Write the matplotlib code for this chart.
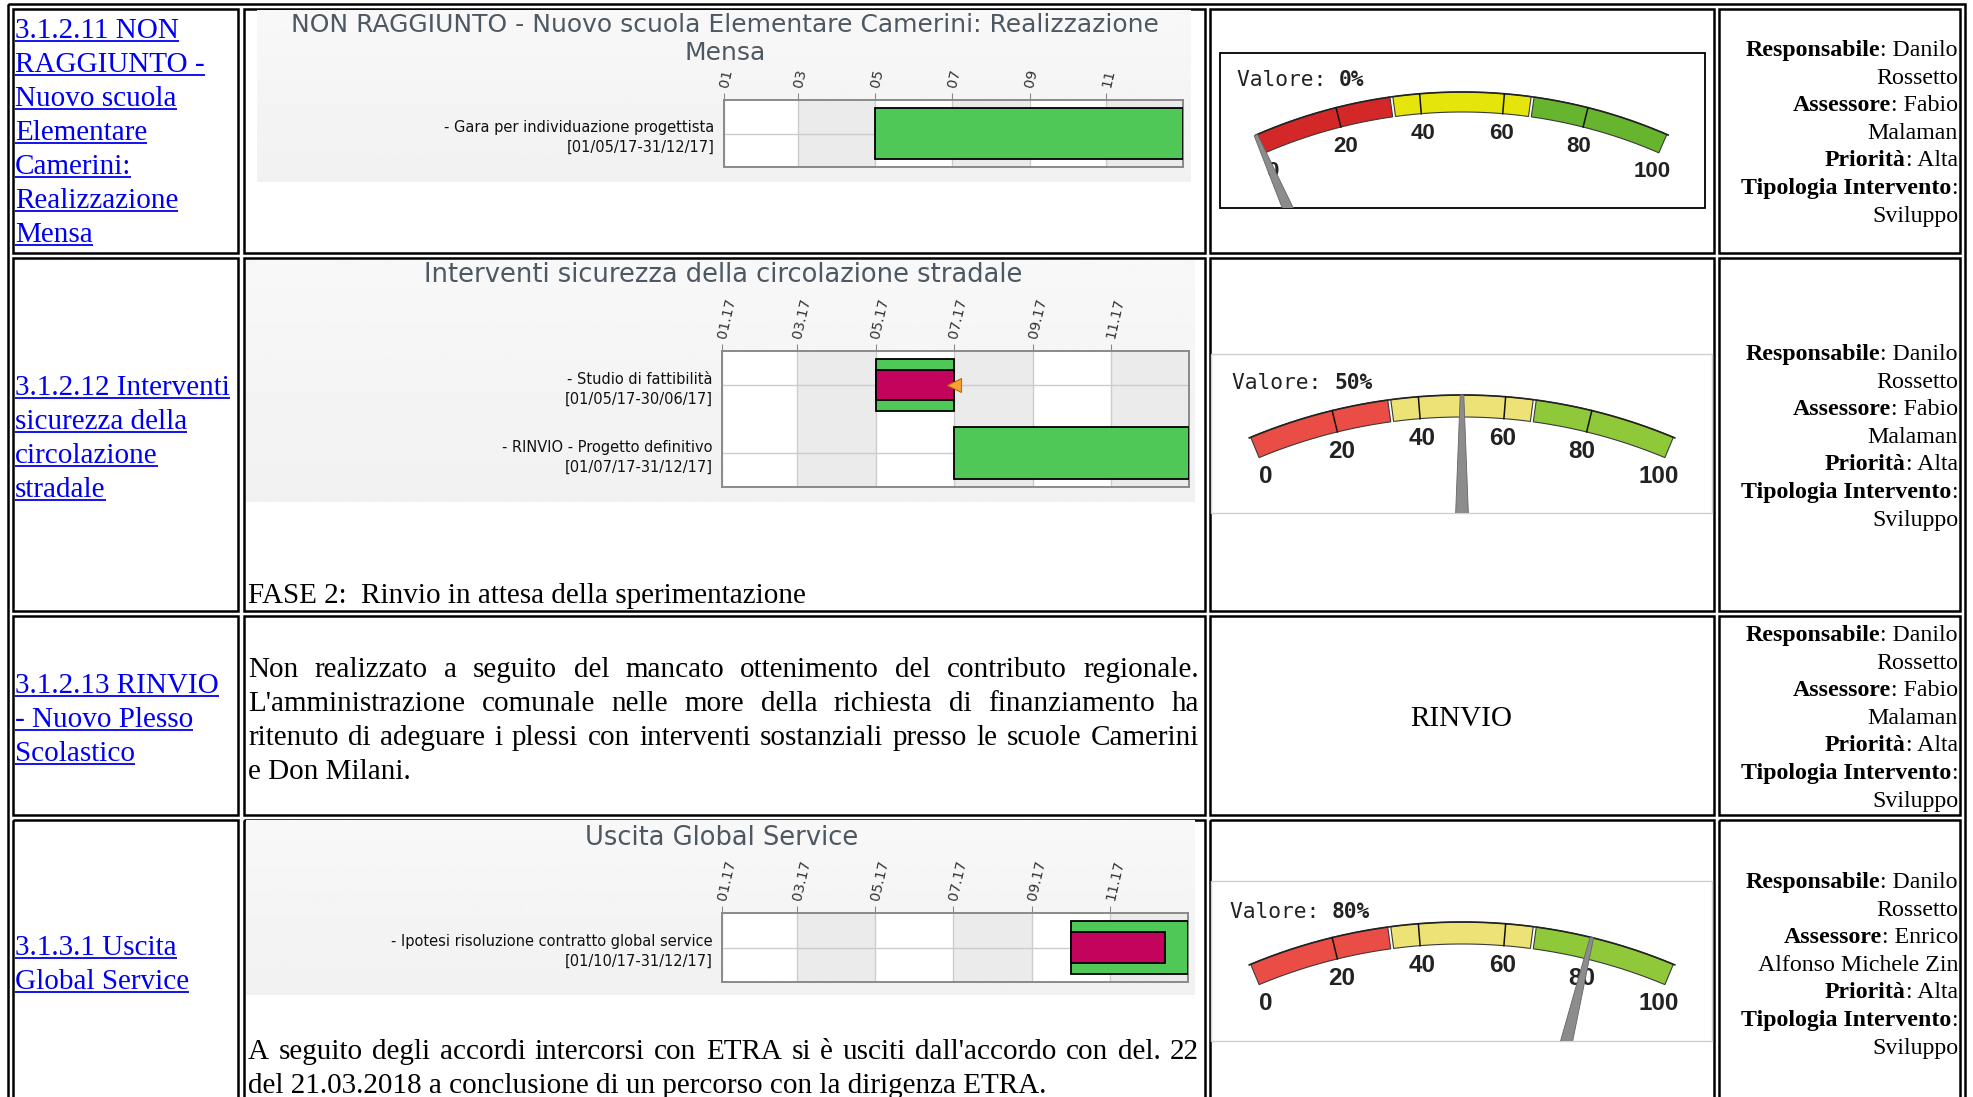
import numpy as np
import matplotlib
matplotlib.use("Agg")
import matplotlib.pyplot as plt
import matplotlib.dates as mdates
from matplotlib.patches import Rectangle, Polygon
from datetime import datetime, timedelta

W, H = 1973, 1097

# ---------------- data ----------------
link_lines = [
    ["3.1.2.11 NON", "RAGGIUNTO -", "Nuovo scuola", "Elementare", "Camerini:", "Realizzazione", "Mensa"],
    ["3.1.2.12 Interventi", "sicurezza della", "circolazione", "stradale"],
    ["3.1.2.13 RINVIO", "- Nuovo Plesso", "Scolastico"],
    ["3.1.3.1 Uscita", "Global Service"],
]

gantt_titles = [
    ["NON RAGGIUNTO - Nuovo scuola Elementare Camerini: Realizzazione", "Mensa"],
    ["Interventi sicurezza della circolazione stradale"],
    ["Uscita Global Service"],
]
gantt_tasks = [
    ["- Gara per individuazione progettista"],
    ["- Studio di fattibilità", "- RINVIO - Progetto definitivo"],
    ["- Ipotesi risoluzione contratto global service"],
]
gantt_periods = [
    [("01/05/17", "31/12/17")],
    [("01/05/17", "30/06/17"), ("01/07/17", "31/12/17")],
    [("01/10/17", "31/12/17")],
]
gantt_progress = [[0], [100, 0], [80]]
gantt_milestones = [[], [("30/06/17", 0)], []]
tick_months = [1, 3, 5, 7, 9, 11]
shaded_months = [(3, 5), (7, 9), (11, 13)]
tick_formats = ["%m", "%m.%y", "%m.%y"]

gauge_values = [0, 50, 80]
gauge_ticks = [0, 20, 40, 60, 80, 100]
gauge_bands = [0, 33.3, 66.7, 100]

fase_text = "FASE 2:  Rinvio in attesa della sperimentazione"
para_row3 = ["Non realizzato a seguito del mancato ottenimento del contributo regionale.",
             "L'amministrazione comunale nelle more della richiesta di finanziamento ha",
             "ritenuto di adeguare i plessi con interventi sostanziali presso le scuole Camerini",
             "e Don Milani."]
para_row4 = ["A seguito degli accordi intercorsi con ETRA si è usciti dall'accordo con del. 22",
             "del 21.03.2018 a conclusione di un percorso con la dirigenza ETRA."]
rinvio_text = "RINVIO"

info_std = [("Responsabile", ": Danilo"), ("", "Rossetto"), ("Assessore", ": Fabio"), ("", "Malaman"),
            ("Priorità", ": Alta"), ("Tipologia Intervento", ":"), ("", "Sviluppo")]
info_lines = [info_std, info_std, info_std,
              [("Responsabile", ": Danilo"), ("", "Rossetto"), ("Assessore", ": Enrico"),
               ("", "Alfonso Michele Zin"), ("Priorità", ": Alta"), ("Tipologia Intervento", ":"),
               ("", "Sviluppo")]]

# ---------------- layout (pixels) ----------------
SERIF = "Liberation Serif"
SANS = "DejaVu Sans"
BLUE = "#0000ee"
GREEN = "#4fc857"
MAGENTA = "#c2045c"

col_edges = [(13, 238), (244, 1205), (1210, 1714), (1719, 1960)]
row_edges = [(9, 253), (258, 611), (616, 815), (820, 1130)]
link_first = [28, 385, 683, 945]
info_first = [48, 352, 633, 880]

gantt_panels = [(257, 10, 1191, 182), (246, 260, 1195, 502), (246, 820, 1195, 995)]
gantt_title_y = [[25, 53], [275], [838]]
gantt_title_x = [725, 723, 722]
gantt_title_fs = [18.0, 18.5, 18.5]
gantt_axes_px = [(724, 100, 1183, 167), (722, 351, 1189, 487), (722, 913, 1188, 982)]

gauges = [
    dict(frame=(1220, 53, 1705, 208), fedge="black", flw=1.3, cx=1462, cy=607, R=515, th=20, half=23.6,
         rl=475, lab=(1237, 80), cols=["#d42727", "#e5e50c", "#67b42f"], fs=16),
    dict(frame=(1211, 354, 1712, 513), fedge="#cfcfcf", flw=1.0, cx=1462, cy=944, R=549, th=22, half=22.8,
         rl=507, lab=(1232, 383), cols=["#ea4d45", "#ede276", "#8fc93a"], fs=17.5),
    dict(frame=(1211, 881, 1712, 1041), fedge="#cfcfcf", flw=1.0, cx=1462, cy=1471, R=549, th=22, half=22.8,
         rl=507, lab=(1230, 912), cols=["#ea4d45", "#ede276", "#8fc93a"], fs=17.5),
]

fig = plt.figure(figsize=(W / 100, H / 100), dpi=100)
ax = fig.add_axes([0, 0, 1, 1])
ax.set_xlim(0, W)
ax.set_ylim(H, 0)
ax.axis("off")
rend = fig.canvas.get_renderer()


def width_of(s, **kw):
    t = ax.text(0, 0, s, **kw)
    w = t.get_window_extent(rend).width
    t.remove()
    return w


def justified(line, x0, x1, yb, fs, last=False):
    words = line.split(" ")
    if last or len(words) == 1:
        ax.text(x0, yb, line, fontsize=fs, family=SERIF, va="baseline")
        return
    ws = [width_of(w, fontsize=fs, family=SERIF) for w in words]
    gap = (x1 - x0 - sum(ws)) / (len(words) - 1)
    x = x0
    for w, wd in zip(words, ws):
        ax.text(x, yb, w, fontsize=fs, family=SERIF, va="baseline")
        x += wd + gap


# ---------------- table borders ----------------
ax.add_patch(Rectangle((8, 4), 1957, 1200, fill=False, ec="black", lw=1.8))
for (ya, yb) in row_edges:
    for (xa, xb) in col_edges:
        ax.add_patch(Rectangle((xa, ya), xb - xa, yb - ya, fill=False, ec="black", lw=1.8))

# ---------------- column 1: links ----------------
for i, lines in enumerate(link_lines):
    for j, s in enumerate(lines):
        yb = link_first[i] + j * 34 + 10
        t = ax.text(15, yb, s, fontsize=21, family=SERIF, color=BLUE, va="baseline")
        w = t.get_window_extent(rend).width
        ax.plot([15, 15 + w], [yb + 3, yb + 3], color=BLUE, lw=1.3, solid_capstyle="butt")

# ---------------- column 4: info ----------------
for i, lines in enumerate(info_lines):
    for j, (b, r) in enumerate(lines):
        yb = info_first[i] + j * 27.6 + 8
        t = ax.text(1958, yb, r, ha="right", va="baseline", fontsize=17.2, family=SERIF)
        w = t.get_window_extent(rend).width
        if b:
            ax.text(1958 - w, yb, b, ha="right", va="baseline", fontsize=17.2, family=SERIF, weight="bold")

# ---------------- column 2 texts ----------------
ax.text(248, 593 + 10, fase_text, fontsize=21, family=SERIF, va="baseline")
for j, line in enumerate(para_row3):
    justified(line, 248, 1199, 667 + j * 34 + 10, 21, last=(j == len(para_row3) - 1))
for j, line in enumerate(para_row4):
    justified(line, 248, 1199, 1049 + j * 34 + 10, 21, last=(j == len(para_row4) - 1))
ax.text(1461, 726, rinvio_text, fontsize=21, family=SERIF, ha="center", va="baseline")

# ---------------- gantt charts ----------------
for k in range(3):
    px0, py0, px1, py1 = gantt_panels[k]
    # soft vertical gradient behind the chart image
    ax.imshow(np.linspace(0.945, 0.972, 100).reshape(-1, 1), cmap="gray", vmin=0, vmax=1, aspect="auto",
              extent=(px0, px1, py1, py0), origin="lower", zorder=1, interpolation="bilinear")
    for line, ty in zip(gantt_titles[k], gantt_title_y[k]):
        ax.text(gantt_title_x[k], ty, line, ha="center", va="center", fontsize=gantt_title_fs[k],
                family="DejaVu Sans", color="#4e5863", zorder=2)

    gx0, gy0, gx1, gy1 = gantt_axes_px[k]
    g = fig.add_axes([gx0 / W, 1 - gy1 / H, (gx1 - gx0) / W, (gy1 - gy0) / H])
    starts = mdates.date2num([datetime.strptime(a, "%d/%m/%y") for a, b in gantt_periods[k]])
    ends = mdates.date2num([datetime.strptime(b, "%d/%m/%y") + timedelta(days=1) for a, b in gantt_periods[k]])
    n = len(gantt_tasks[k])
    ys = np.arange(n) + 0.5
    prog = np.array(gantt_progress[k]) / 100.0

    for m0, m1 in shaded_months:
        d1 = datetime(2018, 1, 1) if m1 > 12 else datetime(2017, m1, 1)
        g.axvspan(mdates.date2num(datetime(2017, m0, 1)), mdates.date2num(d1), color="#ebebeb", zorder=0, lw=0)
    g.barh(ys, ends - starts, left=starts, height=0.76, color=GREEN, edgecolor="black", lw=1.3, zorder=3)
    sel = prog > 0
    g.barh(ys[sel], ((ends - starts) * prog)[sel], left=starts[sel], height=0.44, color=MAGENTA,
           edgecolor="black", lw=1.3, zorder=4)
    for d, row in gantt_milestones[k]:
        g.plot(mdates.date2num(datetime.strptime(d, "%d/%m/%y") + timedelta(days=1)), row + 0.5,
               marker="<", ms=10, color="#f7a233", mec="#c06a00", mew=0.8, zorder=5, clip_on=False)

    g.set_xlim(mdates.date2num(datetime(2017, 1, 1)), mdates.date2num(datetime(2018, 1, 1)))
    g.set_ylim(n, 0)
    g.set_xticks(mdates.date2num([datetime(2017, m, 1) for m in tick_months]))
    g.xaxis.set_major_formatter(mdates.DateFormatter(tick_formats[k]))
    g.xaxis.tick_top()
    g.tick_params(axis="x", length=5, color="#8a8a8a", pad=4, labelsize=10.3, labelcolor="#333333")
    labels = [f"{t}\n[{a}-{b}]" for t, (a, b) in zip(gantt_tasks[k], gantt_periods[k])]
    g.set_yticks(ys, labels)
    g.tick_params(axis="y", length=0, pad=7, labelsize=10.5, labelcolor="#111111")
    for lab in g.get_yticklabels():
        lab.set_family(SANS)
        lab.set_linespacing(1.4)
    for lab in g.get_xticklabels():
        lab.set_family(SANS)
        lab.set_rotation(77)
        lab.set_rotation_mode("anchor")
        lab.set_ha("left")
        lab.set_va("center")
    g.grid(True, color="#cccccc", lw=1)
    g.set_axisbelow(True)
    g.set_facecolor("white")
    for sp in g.spines.values():
        sp.set_color("#8a8a8a")
        sp.set_linewidth(1.4)

# ---------------- gauges ----------------
for gd, val in zip(gauges, gauge_values):
    fx0, fy0, fx1, fy1 = gd["frame"]
    frame = Rectangle((fx0, fy0), fx1 - fx0, fy1 - fy0, fc="white", ec=gd["fedge"], lw=gd["flw"], zorder=2)
    ax.add_patch(frame)
    cx, cy, R, th, half = gd["cx"], gd["cy"], gd["R"], gd["th"], gd["half"]

    def ang(v):
        return np.radians(90 + half - np.asarray(v) / 100.0 * 2 * half)

    def pt(r, v):
        a = ang(v)
        return cx + r * np.cos(a), cy - r * np.sin(a)

    for (v0, v1), col in zip(zip(gauge_bands[:-1], gauge_bands[1:]), gd["cols"]):
        vs = np.linspace(v0 + 0.35, v1 - 0.35, 60)
        ox, oy = pt(R, vs)
        ix, iy = pt(R - th, vs[::-1])
        poly = Polygon(np.column_stack([np.r_[ox, ix], np.r_[oy, iy]]), closed=True,
                       fc=col, ec="#3a3a3a", lw=0.8, zorder=3)
        ax.add_patch(poly)
    vs = np.linspace(0, 100, 200)
    ox, oy = pt(R, vs)
    ax.plot(ox, oy, color="#222222", lw=1.2, zorder=4)
    for v in gauge_ticks[1:-1]:
        xa, ya = pt(R, v)
        xb, yb = pt(R - th, v)
        ax.plot([xa, xb], [ya, yb], color="#111111", lw=1.1, zorder=4)
    for v in gauge_ticks:
        lx, ly = pt(gd["rl"], v)
        ax.text(lx, ly, str(v), ha="center", va="center", fontsize=gd["fs"], family="Liberation Sans",
                weight="bold", color="#222222", zorder=5)
    # needle: narrow trapezoid from the outer rim towards the hub
    a = float(ang(val))
    tipx, tipy = pt(R, val)
    px, py = np.sin(a), np.cos(a)
    needle = Polygon([(tipx + 1.8 * px, tipy + 1.8 * py), (cx + 23 * px, cy + 23 * py),
                      (cx - 23 * px, cy - 23 * py), (tipx - 1.8 * px, tipy - 1.8 * py)],
                     closed=True, fc="#8c8c8c", ec="#666666", lw=0.6, zorder=6)
    ax.add_patch(needle)
    needle.set_clip_path(frame)
    # value label
    lx, ly = gd["lab"]
    t = ax.text(lx, ly, "Valore: ", family="DejaVu Sans Mono", fontsize=15.3, va="center",
                color="#222222", zorder=7)
    w = t.get_window_extent(rend).width
    ax.text(lx + w, ly, f"{val}%", family="DejaVu Sans Mono", fontsize=15.3, weight="bold",
            va="center", color="#222222", zorder=7)

fig.savefig("out.png", dpi=100)
